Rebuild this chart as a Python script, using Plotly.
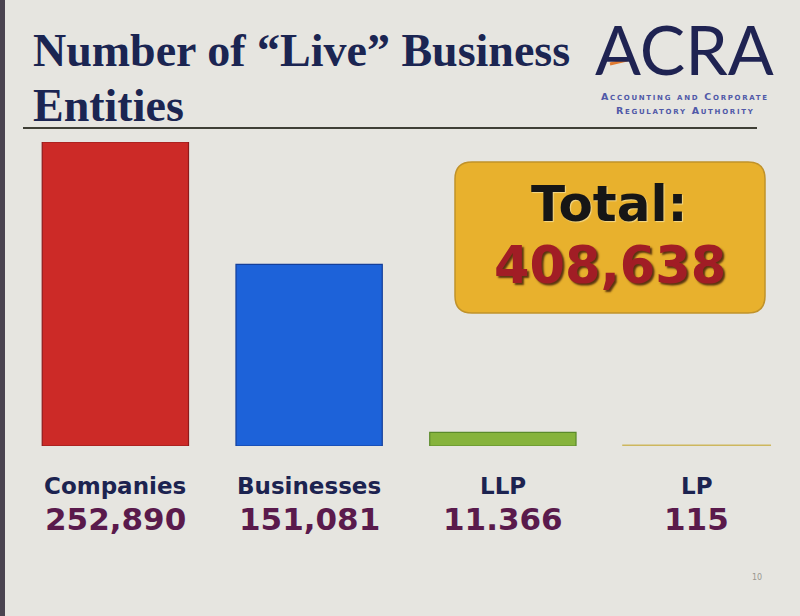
import plotly.graph_objects as go

# ---- data ----
categories = ["Companies", "Businesses", "LLP", "LP"]
values = [252890, 151081, 11366, 115]
value_labels = ["252,890", "151,081", "11.366", "115"]
bar_colors = ["#cc2a27", "#1d62d9", "#86b33c", "#cdb75e"]
edge_colors = ["#8e1a1a", "#143f9a", "#5a8a2a", "#cdb75e"]
total_label = "408,638"

W, H = 800, 616

def px(x):
    return x / W

def py(y):
    return (H - y) / H

fig = go.Figure()
fig.add_trace(go.Bar(
    x=categories, y=values, width=0.755,
    marker=dict(color=bar_colors, line=dict(color=edge_colors, width=[1.2, 1.2, 1.2, 2.5])),
    hoverinfo="skip", showlegend=False,
))

shapes = []
# left dark frame edge of the photo
shapes.append(dict(type="rect", xref="paper", yref="paper", x0=0, x1=px(5), y0=0, y1=1,
                   fillcolor="#4a4450", line=dict(width=0), layer="below"))
# rule under title
shapes.append(dict(type="line", xref="paper", yref="paper", x0=px(23), x1=px(757), y0=py(128), y1=py(128),
                   line=dict(color="#3f3f36", width=2)))
# orange accent in logo
shapes.append(dict(type="line", xref="paper", yref="paper", x0=px(610), x1=px(627), y0=py(64), y1=py(60),
                   line=dict(color="#e07a30", width=3)))
# rounded total box
x0, x1, y0, y1, r = 455, 765, 162, 313, 17
path = (f"M {px(x0+r)},{py(y0)} L {px(x1-r)},{py(y0)} Q {px(x1)},{py(y0)} {px(x1)},{py(y0+r)} "
        f"L {px(x1)},{py(y1-r)} Q {px(x1)},{py(y1)} {px(x1-r)},{py(y1)} "
        f"L {px(x0+r)},{py(y1)} Q {px(x0)},{py(y1)} {px(x0)},{py(y1-r)} "
        f"L {px(x0)},{py(y0+r)} Q {px(x0)},{py(y0)} {px(x0+r)},{py(y0)} Z")
shapes.append(dict(type="path", xref="paper", yref="paper", path=path,
                   fillcolor="#e8b12d", line=dict(color="#c0922a", width=1.5)))

ann = []
serif = "Liberation Serif"
ann.append(dict(text="Number of “Live” Business", x=px(31), y=py(51), xref="paper", yref="paper",
                xanchor="left", yanchor="middle", showarrow=False,
                font=dict(family=serif, size=46, color="#1b2552", weight="bold")))
ann.append(dict(text="Entities", x=px(31), y=py(106), xref="paper", yref="paper",
                xanchor="left", yanchor="middle", showarrow=False,
                font=dict(family=serif, size=46, color="#1b2552", weight="bold")))
# logo
ann.append(dict(text="ACRA", x=px(684), y=py(48), xref="paper", yref="paper",
                xanchor="center", yanchor="middle", showarrow=False,
                font=dict(family="Lato", size=68, color="#1f2352")))
ann.append(dict(text='<span style="letter-spacing:1.7px">Accounting and Corporate</span>',
                x=px(685), y=py(97), xref="paper", yref="paper",
                xanchor="center", yanchor="middle", showarrow=False,
                font=dict(family="DejaVu Sans", size=9.5, color="#5059a8", weight="bold", variant="small-caps")))
ann.append(dict(text='<span style="letter-spacing:1.7px">Regulatory Authority</span>',
                x=px(685), y=py(110), xref="paper", yref="paper",
                xanchor="center", yanchor="middle", showarrow=False,
                font=dict(family="DejaVu Sans", size=9.5, color="#5059a8", weight="bold", variant="small-caps")))
# total box text
ann.append(dict(text="Total:", x=px(609), y=py(204), xref="paper", yref="paper",
                xanchor="center", yanchor="middle", showarrow=False,
                font=dict(family="DejaVu Sans", size=50, color="#161616", weight="bold",
                          shadow="1px 1px 1px #f3d98a")))
ann.append(dict(text=total_label, x=px(610), y=py(266), xref="paper", yref="paper",
                xanchor="center", yanchor="middle", showarrow=False,
                font=dict(family="DejaVu Sans", size=51, color="#a11d25", weight="bold",
                          shadow="2px 2px 2px #5a3410")))
# category labels and values
for c, v in zip(categories, value_labels):
    ann.append(dict(text=c, x=c, y=py(486), xref="x", yref="paper",
                    xanchor="center", yanchor="middle", showarrow=False,
                    font=dict(family="DejaVu Sans", size=23, color="#1c2350", weight="bold")))
    ann.append(dict(text=v, x=c, y=py(519), xref="x", yref="paper",
                    xanchor="center", yanchor="middle", showarrow=False,
                    font=dict(family="DejaVu Sans", size=31, color="#5a1a4c", weight="bold")))
# page number
ann.append(dict(text="10", x=px(757), y=py(577), xref="paper", yref="paper",
                xanchor="center", yanchor="middle", showarrow=False,
                font=dict(family="DejaVu Sans", size=8, color="#9a9890")))

fig.update_layout(
    width=W, height=H, margin=dict(l=0, r=0, t=0, b=0),
    paper_bgcolor="#e6e5e0", plot_bgcolor="rgba(0,0,0,0)",
    xaxis=dict(domain=[px(18.5), px(793.5)], range=[-0.5, 3.5], visible=False, fixedrange=True),
    yaxis=dict(domain=[py(446), py(142)], range=[0, 252890], visible=False, fixedrange=True),
    shapes=shapes, annotations=ann, bargap=0.25, showlegend=False,
)
fig.write_html("out.html", config={"displayModeBar": False},
               post_script="document.body.style.margin='0';document.body.style.overflow='hidden';")
